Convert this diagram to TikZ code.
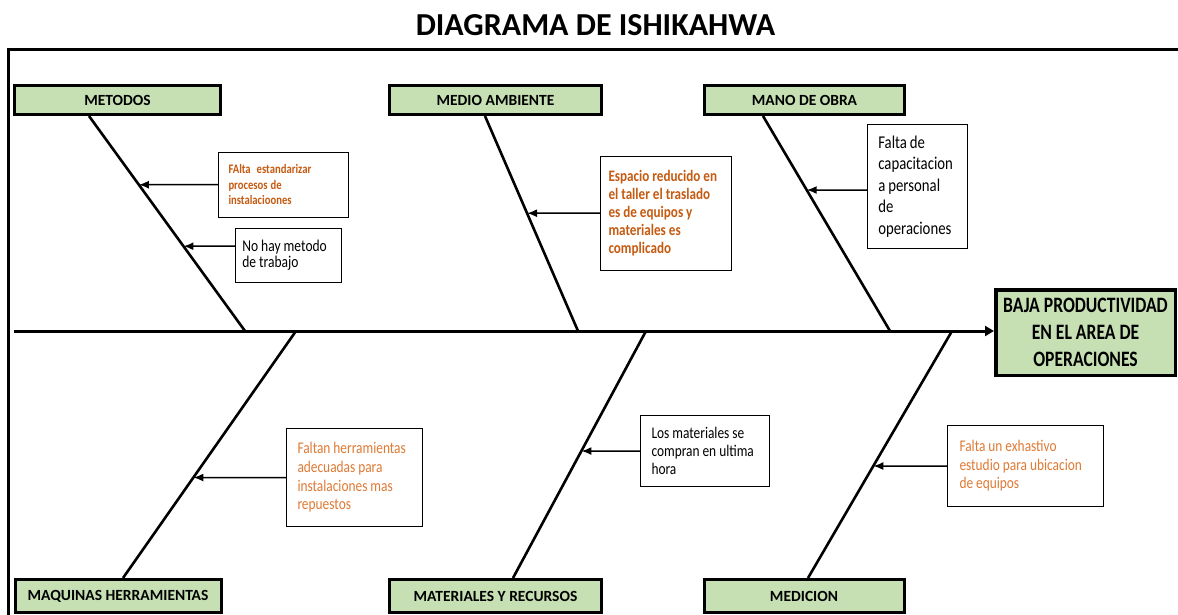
\documentclass[tikz,border=0pt]{standalone}
\usepackage{fontspec}
\setmainfont{Carlito}
\newfontfamily\narrowfont[FakeStretch=0.8]{Carlito}
\newfontfamily\boxfont[FakeStretch=0.82]{Carlito}
\usetikzlibrary{arrows.meta}

\definecolor{catgreen}{HTML}{C6E0B4}
\definecolor{boldorange}{HTML}{C55A11}
\definecolor{softorange}{HTML}{DF7A35}

\tikzset{
  category/.style={draw=black, line width=3pt, fill=catgreen, inner sep=0pt,
    minimum height=29pt, font=\fontsize{15.5}{18}\selectfont\bfseries},
  effectbox/.style={draw=black, line width=3.5pt, fill=catgreen, inner sep=0pt,
    minimum width=179.5pt, minimum height=85.5pt, align=center,
    font=\narrowfont\fontsize{22}{26.7}\selectfont\bfseries},
  cause/.style={draw=black, line width=1.1pt, fill=white, align=left, inner ysep=0pt,
    execute at begin node={\spaceskip=3pt plus 1pt\relax}},
  bone/.style={line width=2.6pt},
  spine/.style={line width=3pt, -{Triangle[length=9pt,width=10pt]}},
  causearrow/.style={line width=1.5pt, -{Latex[length=10pt,width=8pt]}},
}

\begin{document}
\begin{tikzpicture}[x=1pt,y=-1pt]
\useasboundingbox (0,0) rectangle (1178,614);

% title and frame
\node[font=\fontsize{32}{38}\selectfont\bfseries] (title) at (595.5,25) {DIAGRAMA DE ISHIKAHWA};
\draw[line width=3pt] (8.5,616) -- (8.5,49.5) -- (1180,49.5);

% category boxes
\node[category, minimum width=206pt] (metodos) at (117.5,100) {METODOS};
\node[category, minimum width=212pt] (medio)   at (495.5,100) {MEDIO AMBIENTE};
\node[category, minimum width=200pt] (mano)    at (804.5,100) {MANO DE OBRA};
\node[category, minimum width=206pt, minimum height=33pt] (maquinas)   at (118,596) {MAQUINAS HERRAMIENTAS};
\node[category, minimum width=212pt, minimum height=33pt] (materiales) at (495.5,596) {MATERIALES Y RECURSOS};
\node[category, minimum width=200pt, minimum height=33pt] (medicion)   at (804,596) {MEDICION};

% effect
\node[effectbox] (effect) at (1085.5,332.5) {BAJA PRODUCTIVIDAD\\EN EL AREA DE\\OPERACIONES};

% spine
\coordinate (spineL) at (14,331);
\draw[spine] (spineL) -- (spineL -| effect.west);

% bones
\coordinate (b1top) at (89,116);   \coordinate (b1foot) at (245,331);
\coordinate (b2top) at (485,116);  \coordinate (b2foot) at (578,331);
\coordinate (b3top) at (763,116);  \coordinate (b3foot) at (890,331);
\coordinate (b4top) at (296,331);  \coordinate (b4foot) at (123,578);
\coordinate (b5top) at (646,331);  \coordinate (b5foot) at (513,578);
\coordinate (b6top) at (952,331);  \coordinate (b6foot) at (808,578);
\draw[bone] (b1top) -- (b1foot);
\draw[bone] (b2top) -- (b2foot);
\draw[bone] (b3top) -- (b3foot);
\draw[bone] (b4top) -- (b4foot);
\draw[bone] (b5top) -- (b5foot);
\draw[bone] (b6top) -- (b6foot);

% causes
\node[cause, minimum width=130pt, minimum height=65pt, inner xsep=10pt, text width=110pt,
      text=boldorange, font=\boxfont\bfseries\fontsize{13}{15.5}\selectfont] (c1) at (283.5,184.7)
  {FAlta\ \ estandarizar\\procesos de\\instalacioones};
\node[cause, minimum width=106pt, minimum height=54pt, inner xsep=7pt, text width=92pt,
      font=\boxfont\fontsize{16.5}{15.7}\selectfont] (c2) at (288.3,255.2)
  {No hay metodo\\de trabajo};
\node[cause, minimum width=131pt, minimum height=114pt, inner xsep=8pt, text width=115pt,
      text=boldorange, font=\boxfont\bfseries\fontsize{16}{18.1}\selectfont] (c3) at (666,213.2)
  {Espacio reducido en\\el taller el traslado\\es de equipos y\\materiales es\\complicado};
\node[cause, minimum width=100pt, minimum height=124pt, inner xsep=11pt, text width=78pt,
      font=\boxfont\fontsize{18}{21.5}\selectfont] (c4) at (917.3,186.5)
  {Falta de\\capacitacion\\a personal\\de\\operaciones};
\node[cause, minimum width=136pt, minimum height=98pt, inner xsep=11pt, text width=114pt,
      text=softorange, font=\boxfont\fontsize{16.3}{18.7}\selectfont] (c5) at (354.5,477.5)
  {Faltan herramientas\\adecuadas para\\instalaciones mas\\repuestos};
\node[cause, minimum width=129pt, minimum height=71pt, inner xsep=11pt, text width=107pt,
      font=\boxfont\fontsize{16.3}{18}\selectfont] (c6) at (705,451)
  {Los materiales se\\compran en ultima\\hora};
\node[cause, minimum width=156pt, minimum height=81pt, inner xsep=12pt, text width=132pt,
      text=softorange, font=\boxfont\fontsize{16.3}{18.5}\selectfont] (c7) at (1025.5,466)
  {Falta un exhastivo\\estudio para ubicacion\\de equipos};

% cause arrows, each ending on its bone
\coordinate (s2) at ([yshift=9pt]c2.west);
\coordinate (s2r) at ([yshift=9pt]c2.east);
\coordinate (s4) at ([yshift=-3.5pt]c4.west);
\coordinate (s4r) at ([yshift=-3.5pt]c4.east);
\coordinate (t1) at (intersection of b1top--b1foot and c1.west--c1.east);
\coordinate (t2) at (intersection of b1top--b1foot and s2--s2r);
\coordinate (t3) at (intersection of b2top--b2foot and c3.west--c3.east);
\coordinate (t4) at (intersection of b3top--b3foot and s4--s4r);
\coordinate (t5) at (intersection of b4top--b4foot and c5.west--c5.east);
\coordinate (t6) at (intersection of b5top--b5foot and c6.west--c6.east);
\coordinate (t7) at (intersection of b6top--b6foot and c7.west--c7.east);
\draw[causearrow] (c1.west) -- (t1);
\draw[causearrow] (s2) -- (t2);
\draw[causearrow] (c3.west) -- (t3);
\draw[causearrow] (s4) -- (t4);
\draw[causearrow] (c5.west) -- (t5);
\draw[causearrow] (c6.west) -- (t6);
\draw[causearrow] (c7.west) -- (t7);
\end{tikzpicture}
\end{document}
